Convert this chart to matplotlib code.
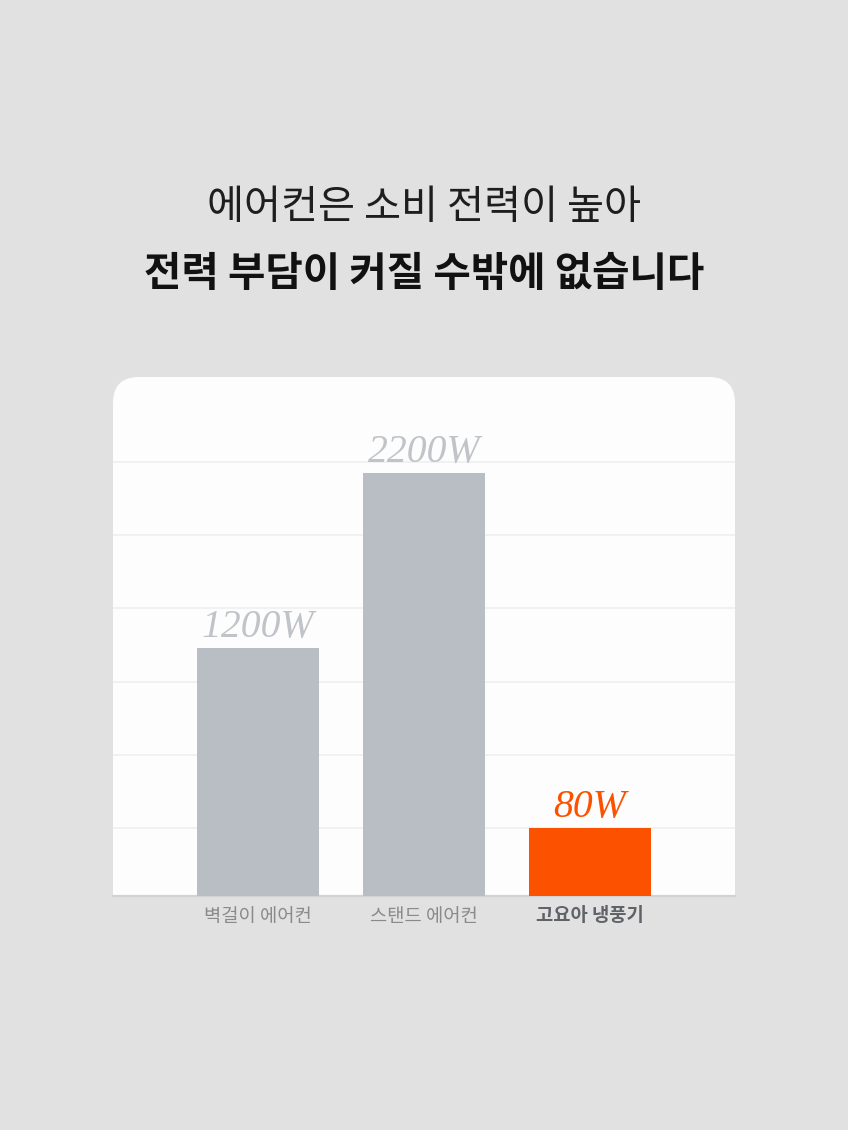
import matplotlib
matplotlib.use("Agg")
import matplotlib.pyplot as plt
from matplotlib.patches import FancyBboxPatch, Rectangle
from matplotlib.transforms import IdentityTransform

plt.rcParams['font.family'] = ['Noto Sans CJK KR', 'DejaVu Sans']

# data
categories = ['벽걸이 에어컨', '스탠드 에어컨', '고요아 냉풍기']
watts = [1200, 2200, 80]
# bar heights as drawn in the picture (not proportional to the watts)
bar_heights = [248, 423, 68]
grid_levels = [68, 141, 214, 288, 361, 434]
title_1 = '에어컨은 소비 전력이 높아'
title_2 = '전력 부담이 커질 수밖에 없습니다'

bg = '#e1e1e1'
gray_bar = '#b9bec4'
orange = '#fc5200'
bar_colors = [gray_bar, gray_bar, orange]
label_colors = ['#c0c4c8', '#c0c4c8', orange]

W, H = 848, 1130
fig = plt.figure(figsize=(W / 100, H / 100), dpi=100, facecolor=bg)

# white panel, rounded top corners, square bottom
px_l, px_r, px_t, px_b = 113, 735, 377, 896
panel = FancyBboxPatch((px_l, H - px_b), px_r - px_l, px_b - px_t,
                       boxstyle="round,pad=0,rounding_size=26",
                       transform=IdentityTransform(), facecolor='#fdfdfd',
                       edgecolor='none', zorder=-5)
fig.patches.append(panel)
fig.patches.append(Rectangle((px_l, H - px_b), px_r - px_l, 200,
                             transform=IdentityTransform(), facecolor='#fdfdfd',
                             edgecolor='none', zorder=-5))

ax = fig.add_axes([px_l / W, (H - px_b) / H, (px_r - px_l) / W, (px_b - px_t) / H])
ax.set_facecolor('none')
ax.set_zorder(2)

x = range(len(categories))
ax.bar(x, bar_heights, width=0.735, color=bar_colors, zorder=3)

for lv in grid_levels:
    ax.axhline(lv, color='#efefef', lw=1.2, zorder=1)

for i, (h, w) in enumerate(zip(bar_heights, watts)):
    ax.text(i, h + 11, f'{w}W', ha='center', va='baseline',
            family='Liberation Serif', style='italic', fontsize=28.5,
            color=label_colors[i], zorder=4)

ax.set_xlim(-0.873, 2.873)
ax.set_ylim(0, px_b - px_t)
ax.set_yticks([])
ax.set_xticks(list(x))
ax.set_xticklabels(categories, fontsize=13.5, color='#8a8a8a')
ax.tick_params(axis='x', length=0, pad=7)
lbls = ax.get_xticklabels()
lbls[2].set_fontweight('bold')
lbls[2].set_color('#5f6368')

for s in ['left', 'right', 'top']:
    ax.spines[s].set_visible(False)
ax.spines['bottom'].set_color('#d2d2d2')
ax.spines['bottom'].set_linewidth(1.6)

fig.text(0.5, 1 - 207 / H, title_1, ha='center', va='center',
         fontsize=29, color='#1e1e1e')
fig.text(0.5, 1 - 275 / H, title_2, ha='center', va='center',
         fontsize=29.3, fontweight='bold', color='#111111')

fig.savefig('out.png', dpi=100, facecolor=bg)
